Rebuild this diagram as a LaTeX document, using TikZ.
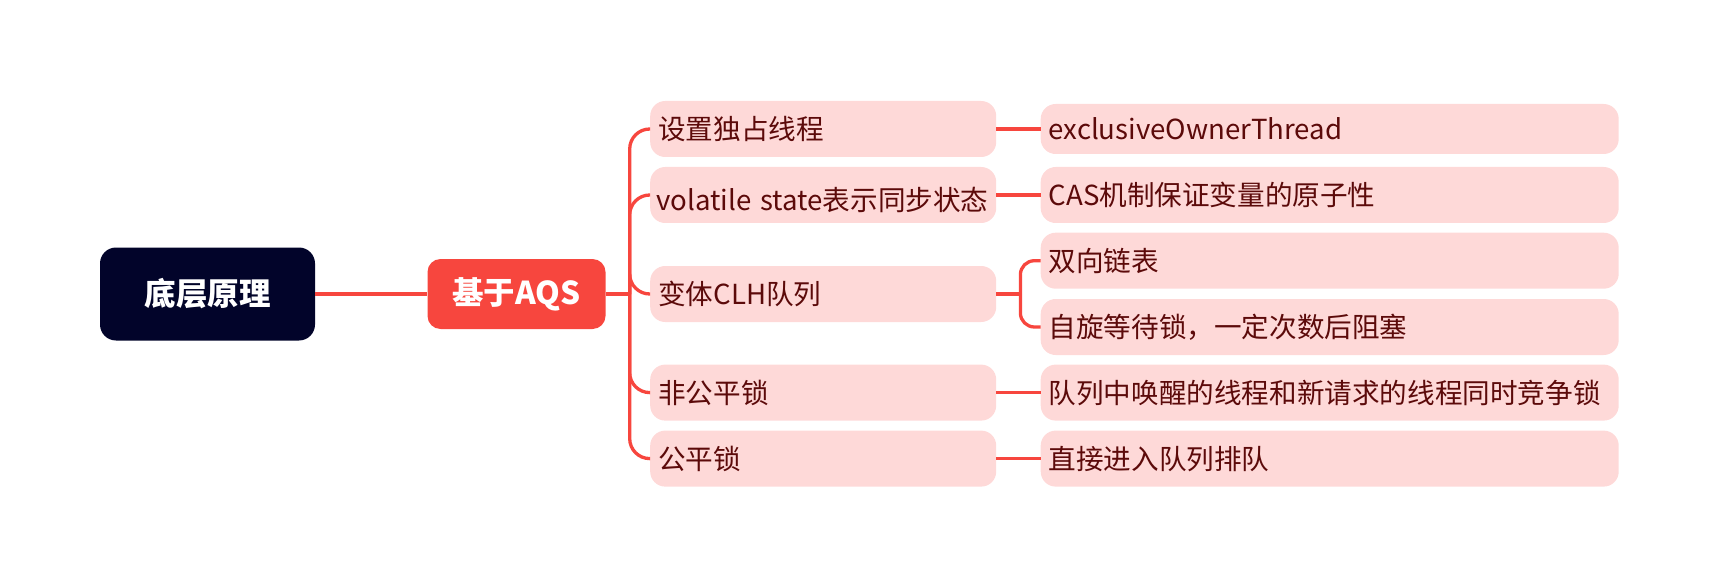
\documentclass[tikz,border=0pt]{standalone}
\usepackage{fontspec}
\setmainfont{Noto Sans CJK SC}
\usetikzlibrary{calc}
\definecolor{rootc}{HTML}{02042A}
\definecolor{redc}{HTML}{F7463E}
\definecolor{pinkc}{HTML}{FED9D8}
\definecolor{textc}{HTML}{5C0A0A}
\tikzset{
  rootbox/.style={draw=none, fill=rootc, rounded corners=16pt, minimum width=215pt, minimum height=93pt, text=white, font=\fontsize{31.5}{38}\selectfont\bfseries, inner sep=0pt},
  aqsbox/.style={draw=none, fill=redc, rounded corners=13pt, minimum width=178pt, minimum height=70pt, text=white, font=\fontsize{31.5}{38}\selectfont\bfseries, inner sep=0pt},
  lonebox/.style={draw=none, fill=pinkc, rounded corners=15pt, anchor=west, text width=334pt, align=left, inner xsep=6pt, inner ysep=0pt, minimum height=56pt, text=textc, font=\fontsize{27.6}{33}\selectfont},
  ltwobox/.style={draw=none, fill=pinkc, rounded corners=15pt, anchor=west, text width=562pt, align=left, inner xsep=8pt, inner ysep=0pt, minimum height=56pt, text=textc, font=\fontsize{27.6}{33}\selectfont},
  conn/.style={draw=redc, line width=3.3pt}
}
\begin{document}
\begin{tikzpicture}[x=1pt,y=-1pt]
\useasboundingbox (0,0) rectangle (1716,588);
\node[rootbox] (root) at (207.5,294) {底层原理};
\node[aqsbox] (aqs) at (516.5,294) {基于AQS};

\node[lonebox] (la) at (650,129) {\hspace{2pt}设置独占线程};
\node[lonebox] (lb) at (650,195) {\hspace{3pt}volatile~state表示同步状态};
\node[lonebox] (lc) at (650,294) {\hspace{2pt}变体CLH队列};
\node[lonebox] (ld) at (650,392.6) {\hspace{2pt}非公平锁};
\node[lonebox] (le) at (650,458.6) {\hspace{2pt}公平锁};

\node[ltwobox, minimum height=50pt] (ra) at (1040.5,129) {exclusiveOwnerThread};
\node[ltwobox] (rb) at (1040.5,195) {CAS机制保证变量的原子性};
\node[ltwobox] (rc) at (1040.5,260.7) {双向链表};
\node[ltwobox] (rd) at (1040.5,327) {自旋等待锁，一定次数后阻塞};
\node[ltwobox] (re) at (1040.5,392.6) {队列中唤醒的线程和新请求的线程同时竞争锁};
\node[ltwobox] (rf) at (1040.5,458.6) {直接进入队列排队};

\draw[conn] (root.east) -- (aqs.west);
\coordinate (t) at ($(aqs.east)+(24,0)$);
\draw[conn] (aqs.east) -- (t);
\foreach \n in {la,lb,lc,ld,le}{
  \draw[conn, rounded corners=20pt] (t) |- (\n.west);
}
\draw[conn] (la.east) -- (ra.west);
\draw[conn] (lb.east) -- (rb.west);
\draw[conn] (ld.east) -- (re.west);
\draw[conn] (le.east) -- (rf.west);
\coordinate (b) at ($(lc.east)+(24,0)$);
\draw[conn] (lc.east) -- (b);
\draw[conn, rounded corners=14pt] (b) |- (rc.west);
\draw[conn, rounded corners=14pt] (b) |- (rd.west);
\end{tikzpicture}
\end{document}
